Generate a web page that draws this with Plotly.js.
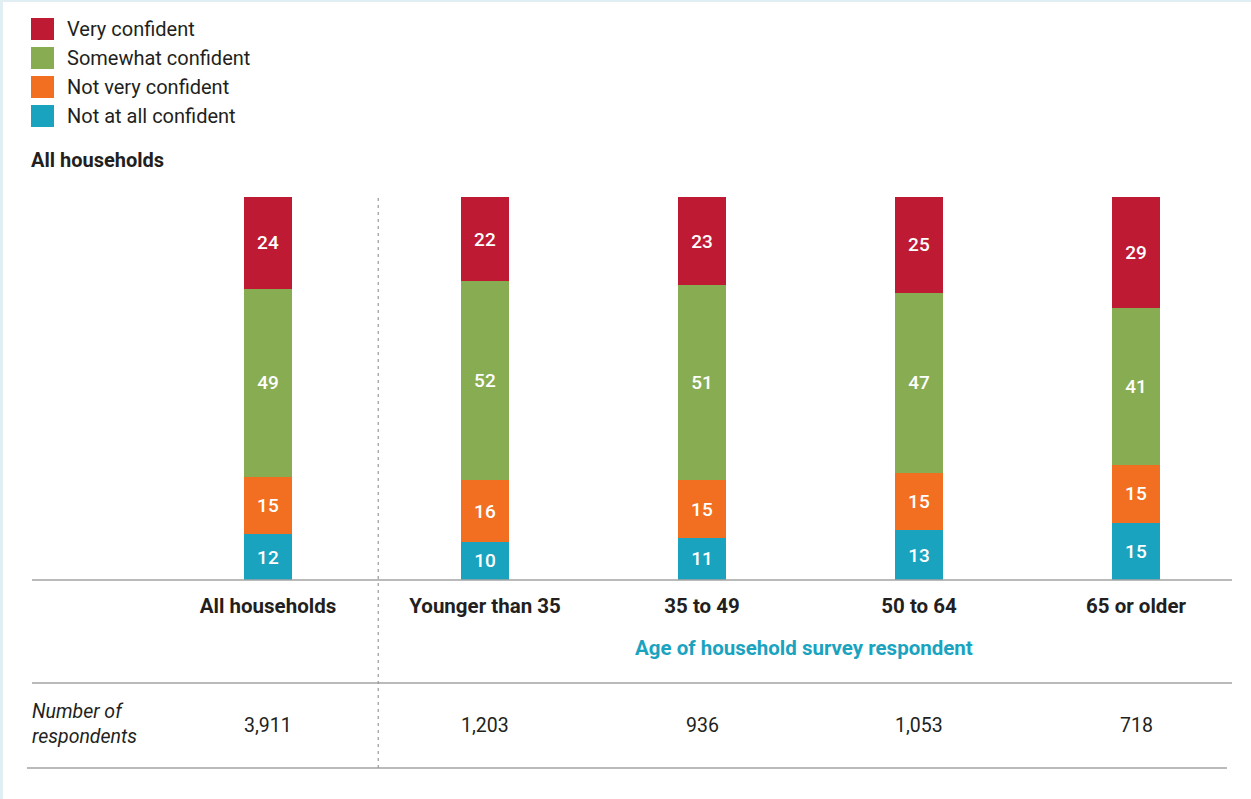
<!DOCTYPE html>
<html>
<head>
<meta charset="utf-8">
<script src="https://cdn.plot.ly/plotly-3.0.1.min.js"></script>
<style>html,body{margin:0;padding:0;background:#fff;}#chart{width:1251px;height:799px;}</style>
</head>
<body>
<div id="chart"></div>
<script>
const categories = ["All households", "Younger than 35", "35 to 49", "50 to 64", "65 or older"];
const seriesNames = ["Not at all confident", "Not very confident", "Somewhat confident", "Very confident"];
const notAtAll = [12, 10, 11, 13, 15];
const notVery = [15, 16, 15, 15, 15];
const somewhat = [49, 52, 51, 47, 41];
const very = [24, 22, 23, 25, 29];
const respondents = ["3,911", "1,203", "936", "1,053", "718"];
const legendOrder = ["Very confident", "Somewhat confident", "Not very confident", "Not at all confident"];
const colors = {
  "Very confident": "#BE1A33",
  "Somewhat confident": "#88AC52",
  "Not very confident": "#F26F22",
  "Not at all confident": "#1AA3BF"
};
const axisGroupTitle = "Age of household survey respondent";
const headerText = "All households";
const rowLabel = "Number of<br>respondents";

const FONT = "Roboto, 'Open Sans', sans-serif";
const xIdx = categories.map((c, i) => i);
const values = [notAtAll, notVery, somewhat, very];

const traces = values.map((v, k) => ({
  type: "bar",
  x: xIdx,
  y: v,
  name: seriesNames[k],
  width: 0.221,
  marker: {color: colors[seriesNames[k]], line: {width: 0}},
  text: v.map(String),
  textposition: "inside",
  insidetextanchor: "middle",
  textangle: 0,
  constraintext: "none",
  textfont: {family: FONT, size: 19, color: "#ffffff", weight: 500},
  hoverinfo: "skip",
  showlegend: false
}));

// plot area: x 32..1232 px, y 197..580 px
const W = 1251, H = 799, L = 32, R = 1232, T = 197, B = 580;
const pw = R - L, ph = B - T;
const px = x => (x - L) / pw;      // pixel -> paper x
const py = y => (B - y) / ph;      // pixel -> paper y

const shapes = [];
const annotations = [];

// page border (light blue on left & top)
shapes.push({type: "rect", xref: "paper", yref: "paper", x0: px(0), x1: px(3), y0: py(H), y1: py(0), fillcolor: "#E1EEF4", line: {width: 0}, layer: "below"});
shapes.push({type: "rect", xref: "paper", yref: "paper", x0: px(0), x1: px(W), y0: py(2), y1: py(0), fillcolor: "#E1EEF4", line: {width: 0}, layer: "below"});

// horizontal rules
shapes.push({type: "line", xref: "paper", yref: "paper", x0: 0, x1: 1, y0: 0, y1: 0, line: {color: "#A3A3A3", width: 1.5}});
shapes.push({type: "line", xref: "paper", yref: "paper", x0: 0, x1: 1, y0: py(683), y1: py(683), line: {color: "#A3A3A3", width: 1.5}});
shapes.push({type: "line", xref: "paper", yref: "paper", x0: px(27), x1: px(1227), y0: py(768), y1: py(768), line: {color: "#A3A3A3", width: 1.5}});
// dashed divider
shapes.push({type: "line", xref: "x", yref: "paper", x0: 0.508, x1: 0.508, y0: py(768), y1: 1, line: {color: "#9A9A9A", width: 1.2, dash: "3px,4px"}});

// legend (custom squares)
legendOrder.forEach((name, i) => {
  const cy = 29 + i * 29;
  shapes.push({type: "rect", xref: "paper", yref: "paper", x0: px(31), x1: px(54), y0: py(cy + 11), y1: py(cy - 11), fillcolor: colors[name], line: {width: 0}});
  annotations.push({xref: "paper", yref: "paper", x: px(65), y: py(cy), xanchor: "left", yanchor: "middle", text: name, showarrow: false, font: {family: FONT, size: 20, color: "#231F20"}});
});

// header
annotations.push({xref: "paper", yref: "paper", x: px(29), y: py(160), xanchor: "left", yanchor: "middle", text: headerText, showarrow: false, font: {family: FONT, size: 20, color: "#231F20", weight: 700}});

// group title
annotations.push({xref: "paper", yref: "paper", x: px(803.5), y: py(648), xanchor: "center", yanchor: "middle", text: axisGroupTitle, showarrow: false, font: {family: FONT, size: 20.5, color: "#1AA3BF", weight: 700}});

// row label
annotations.push({xref: "paper", yref: "paper", x: px(30), y: py(724), xanchor: "left", yanchor: "middle", align: "left", text: "<i>" + rowLabel + "</i>", showarrow: false, font: {family: FONT, size: 19.5, color: "#231F20"}});

// respondent counts
respondents.forEach((r, i) => {
  annotations.push({xref: "x", yref: "paper", x: i, y: py(725), xanchor: "center", yanchor: "middle", text: r, showarrow: false, font: {family: FONT, size: 19.5, color: "#231F20"}});
});

const layout = {
  width: W, height: H,
  margin: {l: L, r: W - R, t: T, b: H - B, pad: 0},
  paper_bgcolor: "#ffffff",
  plot_bgcolor: "#ffffff",
  barmode: "stack",
  showlegend: false,
  xaxis: {
    range: [-1.0876, 4.4424],
    tickmode: "array",
    tickvals: xIdx,
    ticktext: categories,
    tickfont: {family: FONT, size: 20.5, color: "#231F20", weight: 700},
    ticks: "",
    ticklen: 0,
    ticklabelstandoff: 11,
    showgrid: false,
    zeroline: false,
    showline: false,
    fixedrange: true
  },
  yaxis: {
    range: [0, 100],
    visible: false,
    showgrid: false,
    zeroline: false,
    fixedrange: true
  },
  shapes: shapes,
  annotations: annotations,
  font: {family: FONT}
};

Plotly.newPlot("chart", traces, layout, {displayModeBar: false, staticPlot: true});
</script>
</body>
</html>
